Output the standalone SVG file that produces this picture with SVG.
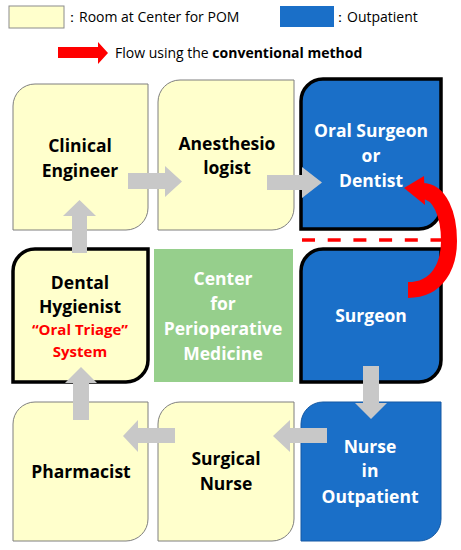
<svg xmlns="http://www.w3.org/2000/svg" width="461" height="550" viewBox="0 0 461 550">
<style>
.y{fill:#ffffcc;stroke:#7f7f7f;stroke-width:1}
.yb{fill:#ffffcc;stroke:#000;stroke-width:3.5}
.b{fill:#1a6fc8;stroke:#000;stroke-width:3.5}
.bt{fill:#1a6fc8;stroke:#1559a3;stroke-width:1}
.g{fill:#96cf8c}
.ar{fill:#c8c8c8}
text{font-family:"Open Sans","Liberation Sans",sans-serif;font-weight:700;font-size:17.5px;text-anchor:middle}
.k{fill:#000}
.w{fill:#fff}
.r{fill:#ff0000;font-size:15px}
.leg{font-weight:400;font-size:14px;text-anchor:start;fill:#000}
</style>
<g id="legend">
<rect x="9" y="6" width="55" height="22" fill="#ffffcc" stroke="#8c8c8c" stroke-width="1"/>
<text class="leg" x="65" y="22">：Room at Center for POM</text>
<rect x="280" y="6" width="54" height="21" fill="#1a6fc8"/>
<text class="leg" x="333" y="22">：Outpatient</text>
<polygon points="58,47 98,47 98,42 108,53 98,64 98,58 58,58" fill="#ff0000"/>
<text class="leg" x="115" y="58">Flow using the <tspan font-weight="700">conventional method</tspan></text>
</g>
<g id="clinical-engineer">
<path class="y" d="M35,84 H148 V208 A22,22 0 0 1 126,230 H13 V106 A22,22 0 0 1 35,84Z"/>
<text class="k" x="80" y="152">Clinical</text>
<text class="k" x="80" y="177">Engineer</text>
</g>
<g id="anesthesiologist">
<path class="y" d="M180,80 H294 V208 A22,22 0 0 1 272,230 H158 V102 A22,22 0 0 1 180,80Z"/>
<text class="k" x="227" y="150">Anesthesio</text>
<text class="k" x="227" y="174">logist</text>
</g>
<g id="oral-surgeon">
<path class="b" d="M323,79 H441 V207 A22,22 0 0 1 419,229 H301 V101 A22,22 0 0 1 323,79Z"/>
<text class="w" x="371" y="137">Oral Surgeon</text>
<text class="w" x="371" y="162">or</text>
<text class="w" x="371" y="187">Dentist</text>
</g>
<g id="dental-hygienist">
<path class="yb" d="M35,249 H148 V360 A22,22 0 0 1 126,382 H13 V271 A22,22 0 0 1 35,249Z"/>
<text class="k" x="80" y="289">Dental</text>
<text class="k" x="80" y="313">Hygienist</text>
<text class="r" x="80" y="335">“Oral Triage”</text>
<text class="r" x="80" y="357">System</text>
</g>
<g id="center">
<rect class="g" x="154" y="249" width="139" height="133"/>
<text class="w" x="223" y="285">Center</text>
<text class="w" x="223" y="310">for</text>
<text class="w" x="223" y="335">Perioperative</text>
<text class="w" x="223" y="360">Medicine</text>
</g>
<g id="surgeon">
<path class="b" d="M323,249 H441 V360 A22,22 0 0 1 419,382 H301 V271 A22,22 0 0 1 323,249Z"/>
<text class="w" x="371" y="322">Surgeon</text>
</g>
<g id="pharmacist">
<path class="y" d="M35,402 H148 V519 A22,22 0 0 1 126,541 H13 V424 A22,22 0 0 1 35,402Z"/>
<text class="k" x="81" y="478">Pharmacist</text>
</g>
<g id="surgical-nurse">
<path class="y" d="M180,402 H294 V519 A22,22 0 0 1 272,541 H158 V424 A22,22 0 0 1 180,402Z"/>
<text class="k" x="226" y="465">Surgical</text>
<text class="k" x="226" y="490">Nurse</text>
</g>
<g id="nurse-outpatient">
<path class="bt" d="M323,402 H441 V519 A22,22 0 0 1 419,541 H301 V424 A22,22 0 0 1 323,402Z"/>
<text class="w" x="370" y="453">Nurse</text>
<text class="w" x="370" y="477">in</text>
<text class="w" x="370" y="503">Outpatient</text>
</g>
<g id="connectors">
<polygon class="ar" points="128,173 165,173 165,166 182,181.5 165,197 165,189 128,189"/>
<polygon class="ar" points="267,175 302,175 302,167 322,182.5 302,198 302,190 267,190"/>
<polygon class="ar" points="72,253 72,216 63,216 79.5,200 96,216 87,216 87,253"/>
<polygon class="ar" points="73,420 73,383 65,383 81,367 97,383 89,383 89,420"/>
<polygon class="ar" points="363,366 379,366 379,403 387,403 371,419 355,403 363,403"/>
<polygon class="ar" points="327,428 290,428 290,420 273,436 290,452 290,443 327,443"/>
<polygon class="ar" points="175,428 138,428 138,420 123,436 138,452 138,443 175,443"/>
<line x1="302" y1="240" x2="441" y2="240" stroke="#ff0000" stroke-width="3.5" stroke-dasharray="13 12.7"/>
<path d="M408,290 C438,290 449,265 449,241 C449,215 440,191 422,191" fill="none" stroke="#ff0000" stroke-width="16"/>
<polygon points="404,188 424,176 425,205" fill="#ff0000"/>
</g>
</svg>
